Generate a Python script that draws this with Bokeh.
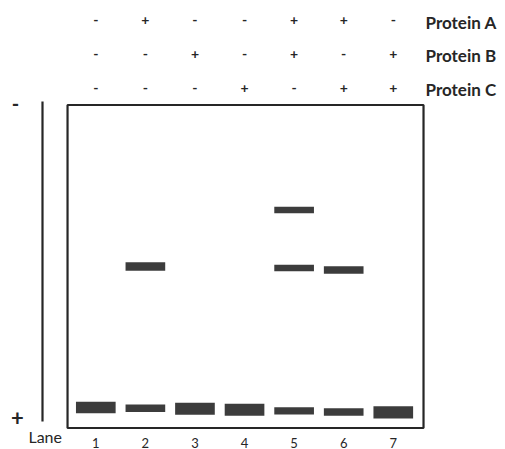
from bokeh.plotting import figure
from bokeh.models import Range1d, ColumnDataSource
from bokeh.embed import file_html
from bokeh.resources import INLINE
from bokeh.core.properties import value

# ---- data ----
lanes = [1, 2, 3, 4, 5, 6, 7]
protein_a = ["-", "+", "-", "-", "+", "+", "-"]
protein_b = ["-", "-", "+", "-", "+", "-", "+"]
protein_c = ["-", "-", "-", "+", "-", "+", "+"]
row_labels = ["Protein A", "Protein B", "Protein C"]
lane_numbers = ["1", "2", "3", "4", "5", "6", "7"]

# bands: lane, migration position (px from the top of the picture), band thickness
band_lane = [1, 2, 3, 4, 5, 6, 7, 2, 5, 5, 6]
band_pos = [407.0, 407.8, 408.3, 409.3, 410.3, 411.5, 411.8, 266.0, 209.5, 267.5, 269.5]
band_thick = [11.7, 7.4, 12.0, 12.0, 7.3, 7.6, 12.3, 8.3, 6.7, 6.4, 7.6]

W, H = 505, 449
x0_lane_px, lane_px = 95.3, 49.58   # px of lane 1 and lane spacing
x_start = 1 - x0_lane_px / lane_px
x_end = x_start + W / lane_px

p = figure(width=W, height=H, output_backend="svg", toolbar_location=None,
           x_range=Range1d(x_start, x_end), y_range=Range1d(H, 0),
           min_border=0, outline_line_color=None)
p.axis.visible = False
p.grid.visible = False
p.background_fill_color = "white"
p.border_fill_color = "white"

ink = "#262626"
band_color = "#3c3c3c"

# gel box
p.quad(left=[0.43], right=[7.61], top=[104.5], bottom=[427.5],
       fill_color=None, line_color=ink, line_width=2.2)
# electrode line on the left
p.segment(x0=[-0.075], y0=[101], x1=[-0.075], y1=[421], line_color=ink, line_width=2.2)

# bands
src = ColumnDataSource(dict(x=band_lane, y=band_pos, h=band_thick))
p.rect(x="x", y="y", width=0.8, height="h", source=src,
       fill_color=band_color, line_color=None)

# treatment signs
font = value("Lato")
sign_y = [19, 53, 87]
label_y = [21.5, 55, 88.5]
for signs, sy, ly, lab in zip([protein_a, protein_b, protein_c], sign_y, label_y, row_labels):
    p.text(x=lanes, y=[sy] * 7, text=signs, text_font=font, text_font_size="14px",
           text_font_style="bold", text_color=ink, text_align="center",
           text_baseline="middle")
    p.text(x=[7.65], y=[ly], text=[lab], text_font=font, text_font_size="17px",
           text_font_style="bold", text_color=ink, text_align="left",
           text_baseline="middle")

# electrode polarity
p.text(x=[-0.62], y=[103], text=["-"], text_font=font, text_font_size="20px",
       text_font_style="bold", text_color=ink, text_align="center", text_baseline="middle")
p.text(x=[-0.58], y=[417], text=["+"], text_font=font, text_font_size="22px",
       text_font_style="bold", text_color=ink, text_align="center", text_baseline="middle")

# lane labels
p.text(x=[-0.02], y=[445], text=["Lane"], text_font=font, text_font_size="16px",
       text_color=ink, text_align="center", text_baseline="bottom")
p.text(x=lanes, y=[447] * 7, text=lane_numbers, text_font=font, text_font_size="13px",
       text_color=ink, text_align="center", text_baseline="bottom")

open("out.html", "w").write(file_html(p, INLINE))
